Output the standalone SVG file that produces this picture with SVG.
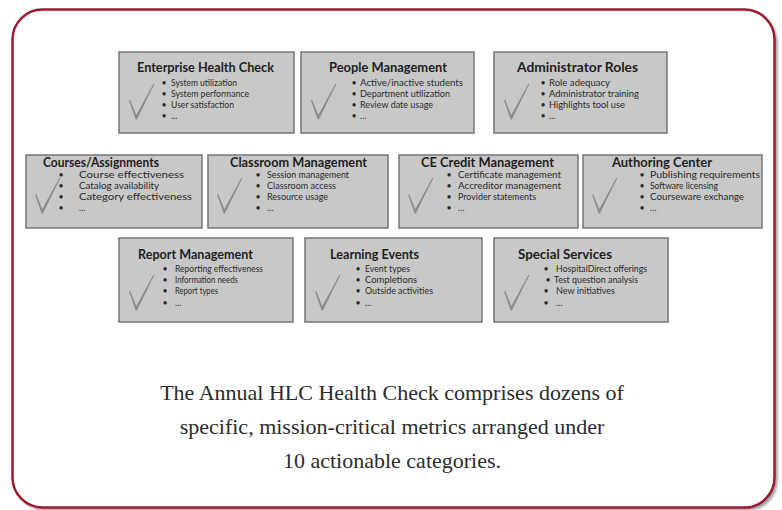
<svg xmlns="http://www.w3.org/2000/svg" width="782" height="510" viewBox="0 0 782 510">
<style>
.box{fill:#c8c8c8;stroke:#6e6e6e;stroke-width:1.4}
.ttl{font-family:Lato,"Liberation Sans",sans-serif;font-weight:bold;font-size:12.5px;fill:#1e1e1e}
.it{font-family:Lato,"Liberation Sans",sans-serif;font-size:8.8px;fill:#2a2a2a}
.bl{font-family:Lato,"Liberation Sans",sans-serif;font-size:8.8px;fill:#2a2a2a;text-anchor:middle}
.cap{font-family:"Liberation Serif","DejaVu Serif",serif;font-size:22px;fill:#2b2b2b;text-anchor:middle}
.chk{fill:#8c8c8c}
</style>
<defs>
<path id="check" class="chk" d="M-7,-18.5 L-5.8,-19 L0.3,-4 L17.6,-35.5 L18.4,-35 L0.9,0.5 L-0.4,0.5 Z"/>
<filter id="sh" x="-5%" y="-5%" width="110%" height="110%"><feGaussianBlur stdDeviation="1.5"/></filter>
</defs>
<rect x="15.5" y="12.5" width="762" height="498" rx="30" fill="#9a9a9a" filter="url(#sh)"/>
<rect x="12.5" y="9.5" width="762" height="498" rx="30" fill="#ffffff" stroke="#9c1b30" stroke-width="2.5"/>

<g id="n1">
<rect class="box" x="119" y="52" width="175" height="81"/>
<use href="#check" x="136" y="119"/>
<text class="ttl" x="137" y="72" textLength="137" lengthAdjust="spacingAndGlyphs">Enterprise Health Check</text>
<text class="bl" x="164" y="85.5">•</text><text class="it" x="171" y="85.5" textLength="66" lengthAdjust="spacingAndGlyphs">System utilization</text>
<text class="bl" x="164" y="96.5">•</text><text class="it" x="171" y="96.5" textLength="78" lengthAdjust="spacingAndGlyphs">System performance</text>
<text class="bl" x="164" y="107.5">•</text><text class="it" x="171" y="107.5" textLength="63" lengthAdjust="spacingAndGlyphs">User satisfaction</text>
<text class="bl" x="164" y="118.5">•</text><text class="it" x="171" y="118.5">...</text>
</g>
<g id="n2">
<rect class="box" x="301" y="52" width="173" height="81"/>
<use href="#check" x="318" y="119"/>
<text class="ttl" x="329" y="72" textLength="118" lengthAdjust="spacingAndGlyphs">People Management</text>
<text class="bl" x="354" y="85.5">•</text><text class="it" x="360" y="85.5" textLength="103" lengthAdjust="spacingAndGlyphs">Active/inactive students</text>
<text class="bl" x="354" y="96.5">•</text><text class="it" x="360" y="96.5" textLength="90" lengthAdjust="spacingAndGlyphs">Department utilization</text>
<text class="bl" x="354" y="107.5">•</text><text class="it" x="360" y="107.5" textLength="73" lengthAdjust="spacingAndGlyphs">Review date usage</text>
<text class="bl" x="354" y="118.5">•</text><text class="it" x="360" y="118.5">…</text>
</g>
<g id="n3">
<rect class="box" x="494" y="52" width="173" height="81"/>
<use href="#check" x="511" y="119"/>
<text class="ttl" x="517" y="72" textLength="121" lengthAdjust="spacingAndGlyphs">Administrator Roles</text>
<text class="bl" x="543" y="85.5">•</text><text class="it" x="549" y="85.5" textLength="61" lengthAdjust="spacingAndGlyphs">Role adequacy</text>
<text class="bl" x="543" y="96.5">•</text><text class="it" x="549" y="96.5" textLength="90" lengthAdjust="spacingAndGlyphs">Administrator training</text>
<text class="bl" x="543" y="107.5">•</text><text class="it" x="549" y="107.5" textLength="76" lengthAdjust="spacingAndGlyphs">Highlights tool use</text>
<text class="bl" x="543" y="118.5">•</text><text class="it" x="549" y="118.5">…</text>
</g>

<g id="n4">
<rect class="box" x="26" y="155" width="176" height="73"/>
<use href="#check" x="42" y="213"/>
<text class="ttl" x="43" y="166.5" textLength="116" lengthAdjust="spacingAndGlyphs">Courses/Assignments</text>
<text class="bl" x="61" y="177.5">•</text><text class="it" x="79" y="177.5" textLength="105" lengthAdjust="spacingAndGlyphs">Course effectiveness</text>
<text class="bl" x="61" y="188.5">•</text><text class="it" x="79" y="188.5" textLength="80" lengthAdjust="spacingAndGlyphs">Catalog availability</text>
<text class="bl" x="61" y="199.5">•</text><text class="it" x="79" y="199.5" textLength="113" lengthAdjust="spacingAndGlyphs">Category effectiveness</text>
<text class="bl" x="61" y="211">•</text><text class="it" x="79" y="211">…</text>
</g>
<g id="n5">
<rect class="box" x="208" y="155" width="180" height="73"/>
<use href="#check" x="224" y="213"/>
<text class="ttl" x="230" y="166.5" textLength="137" lengthAdjust="spacingAndGlyphs">Classroom Management</text>
<text class="bl" x="258" y="177.5">•</text><text class="it" x="267" y="177.5" textLength="82" lengthAdjust="spacingAndGlyphs">Session management</text>
<text class="bl" x="258" y="188.5">•</text><text class="it" x="267" y="188.5" textLength="69" lengthAdjust="spacingAndGlyphs">Classroom access</text>
<text class="bl" x="258" y="199.5">•</text><text class="it" x="267" y="199.5" textLength="61" lengthAdjust="spacingAndGlyphs">Resource usage</text>
<text class="bl" x="258" y="211">•</text><text class="it" x="267" y="211">…</text>
</g>
<g id="n6">
<rect class="box" x="399" y="155" width="179" height="73"/>
<use href="#check" x="415" y="213"/>
<text class="ttl" x="421" y="166.5" textLength="133" lengthAdjust="spacingAndGlyphs">CE Credit Management</text>
<text class="bl" x="449" y="177.5">•</text><text class="it" x="458" y="177.5" textLength="103" lengthAdjust="spacingAndGlyphs">Certificate management</text>
<text class="bl" x="449" y="188.5">•</text><text class="it" x="458" y="188.5" textLength="103" lengthAdjust="spacingAndGlyphs">Accreditor management</text>
<text class="bl" x="449" y="199.5">•</text><text class="it" x="458" y="199.5" textLength="78" lengthAdjust="spacingAndGlyphs">Provider statements</text>
<text class="bl" x="449" y="211">•</text><text class="it" x="458" y="211">…</text>
</g>
<g id="n7">
<rect class="box" x="583" y="155" width="179" height="73"/>
<use href="#check" x="599" y="213"/>
<text class="ttl" x="612" y="166.5" textLength="100" lengthAdjust="spacingAndGlyphs">Authoring Center</text>
<text class="bl" x="642" y="177.5">•</text><text class="it" x="650" y="177.5" textLength="110" lengthAdjust="spacingAndGlyphs">Publishing requirements</text>
<text class="bl" x="642" y="188.5">•</text><text class="it" x="650" y="188.5" textLength="68" lengthAdjust="spacingAndGlyphs">Software licensing</text>
<text class="bl" x="642" y="199.5">•</text><text class="it" x="650" y="199.5" textLength="94" lengthAdjust="spacingAndGlyphs">Courseware exchange</text>
<text class="bl" x="642" y="211">•</text><text class="it" x="650" y="211">…</text>
</g>

<g id="n8">
<rect class="box" x="119" y="238" width="174" height="84"/>
<use href="#check" x="136" y="310"/>
<text class="ttl" x="138" y="258.5" textLength="115" lengthAdjust="spacingAndGlyphs">Report Management</text>
<text class="bl" x="165" y="272">•</text><text class="it" x="175" y="272" textLength="88" lengthAdjust="spacingAndGlyphs">Reporting effectiveness</text>
<text class="bl" x="165" y="283">•</text><text class="it" x="175" y="283" textLength="63" lengthAdjust="spacingAndGlyphs">Information needs</text>
<text class="bl" x="165" y="294">•</text><text class="it" x="175" y="294" textLength="43" lengthAdjust="spacingAndGlyphs">Report types</text>
<text class="bl" x="165" y="306">•</text><text class="it" x="175" y="306">…</text>
</g>
<g id="n9">
<rect class="box" x="305" y="238" width="177" height="84"/>
<use href="#check" x="322" y="310"/>
<text class="ttl" x="330" y="258.5" textLength="89" lengthAdjust="spacingAndGlyphs">Learning Events</text>
<text class="bl" x="358" y="272">•</text><text class="it" x="365" y="272" textLength="45" lengthAdjust="spacingAndGlyphs">Event types</text>
<text class="bl" x="358" y="283">•</text><text class="it" x="365" y="283" textLength="52" lengthAdjust="spacingAndGlyphs">Completions</text>
<text class="bl" x="358" y="294">•</text><text class="it" x="365" y="294" textLength="68" lengthAdjust="spacingAndGlyphs">Outside activities</text>
<text class="bl" x="358" y="306">•</text><text class="it" x="365" y="306">…</text>
</g>
<g id="n10">
<rect class="box" x="494" y="238" width="174" height="84"/>
<use href="#check" x="511" y="310"/>
<text class="ttl" x="518" y="258.5" textLength="94" lengthAdjust="spacingAndGlyphs">Special Services</text>
<text class="bl" x="546" y="272">•</text><text class="it" x="556" y="272" textLength="91" lengthAdjust="spacingAndGlyphs">HospitalDirect offerings</text>
<text class="bl" x="548" y="283">•</text><text class="it" x="554" y="283" textLength="84" lengthAdjust="spacingAndGlyphs">Test question analysis</text>
<text class="bl" x="546" y="294">•</text><text class="it" x="556" y="294" textLength="59" lengthAdjust="spacingAndGlyphs">New initiatives</text>
<text class="bl" x="546" y="306">•</text><text class="it" x="556" y="306">…</text>
</g>

<g id="connectors"></g>

<g id="caption">
<text class="cap" x="392" y="400">The Annual HLC Health Check comprises dozens of</text>
<text class="cap" x="392" y="434">specific, mission-critical metrics arranged under</text>
<text class="cap" x="392" y="468">10 actionable categories.</text>
</g>
</svg>
